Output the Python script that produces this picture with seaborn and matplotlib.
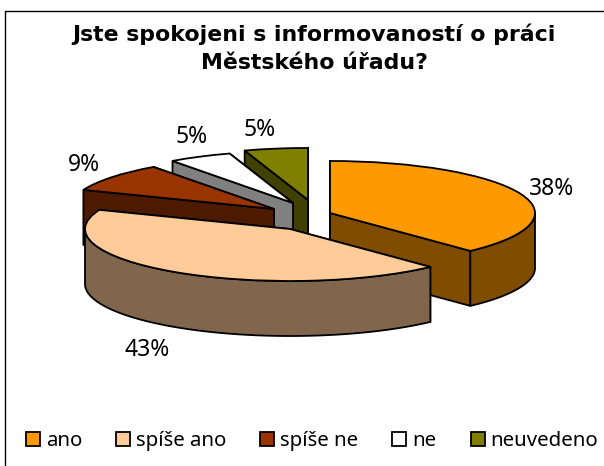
import numpy as np
import matplotlib
matplotlib.use('Agg')
import matplotlib.pyplot as plt
import seaborn as sns
from matplotlib.patches import Patch, Rectangle
from matplotlib.transforms import Affine2D

title = "Jste spokojeni s informovaností o práci\nMěstského úřadu?"
categories = ["ano", "spíše ano", "spíše ne", "ne", "neuvedeno"]
values = [38, 43, 9, 5, 5]
top_colors = ["#FF9900", "#FFCC99", "#993300", "#FFFFFF", "#808000"]

# layout, in pixels of the 604x466 canvas
center = (305, 217)
rx, ry = 205, 52
depth = 55
explode = [(25, -4), (-15, 12), (-31, -8), (-12, -14), (3, -17)]
label_pos = [(552, 189), (147, 350), (84, 165), (192, 137), (260, 130)]
draw_order = [4, 3, 2, 0, 1]
lw = 1.3

sns.set_theme(style="white")
plt.rcParams['font.family'] = ['Noto Sans', 'DejaVu Sans']
palette = sns.color_palette(top_colors)
side_colors = [tuple(c * 0.5 for c in col) for col in palette]

fig = plt.figure(figsize=(6.04, 4.66), dpi=100, facecolor="white")
ax = fig.add_axes([0, 0, 1, 1])

# pie works out the slice angles, the wedges are then squashed into perspective
wedges, _ = ax.pie(values, colors=palette, startangle=90, counterclock=False,
                   wedgeprops={"edgecolor": "black", "linewidth": lw})
ax.set_aspect("auto")
ax.set_xlim(0, 604)
ax.set_ylim(466, 0)
ax.axis("off")


def project(theta, cx, cy):
    rad = np.deg2rad(theta)
    return cx + rx * np.cos(rad), cy - ry * np.sin(rad)


for z, i in enumerate(draw_order):
    wedge = wedges[i]
    cx, cy = center[0] + explode[i][0], center[1] + explode[i][1]
    th1, th2 = wedge.theta1, wedge.theta2

    # cut faces, the one further back first
    cuts = sorted([th1, th2], key=lambda t: project(t, cx, cy)[1])
    for k, th in enumerate(cuts):
        x, y = project(th, cx, cy)
        ax.fill([cx, x, x, cx], [cy, y, y + depth, cy + depth],
                facecolor=side_colors[i], edgecolor="black", linewidth=lw,
                joinstyle="round", zorder=z * 10 + k)

    # rim wall, only where it faces the viewer
    th = np.linspace(th1, th2, 200)
    th = th[np.sin(np.deg2rad(th)) < 0]
    if len(th) > 1:
        xs, ys = project(th, cx, cy)
        ax.fill(np.r_[xs, xs[::-1]], np.r_[ys, ys[::-1] + depth],
                facecolor=side_colors[i], edgecolor="black", linewidth=lw,
                joinstyle="round", zorder=z * 10 + 3)

    wedge.set_transform(Affine2D().scale(rx, -ry).translate(cx, cy) + ax.transData)
    wedge.set_zorder(z * 10 + 5)
    wedge.set_clip_on(False)

    ax.text(label_pos[i][0], label_pos[i][1], f"{values[i]}%", fontsize=16.5,
            ha="center", va="center", color="black", zorder=100)

ax.add_patch(Rectangle((5, 11), 700, 600, fill=False, edgecolor="black",
                       linewidth=1.0, zorder=1))

ax.text(314, 48, title, fontsize=15.8, fontweight="bold", family="DejaVu Sans",
        ha="center", va="center", linespacing=1.5, color="black", zorder=100)

handles = [Patch(facecolor=c, edgecolor="black", linewidth=lw) for c in palette]
ax.legend(handles, categories, loc="center", bbox_to_anchor=(312 / 604, 1 - 441 / 466),
          ncol=5, frameon=False, fontsize=14.7, handlelength=0.68, handleheight=0.68,
          handletextpad=0.3, columnspacing=1.665, borderpad=0, borderaxespad=0,
          labelcolor="black")

fig.savefig("out.png", dpi=100, facecolor="white")
